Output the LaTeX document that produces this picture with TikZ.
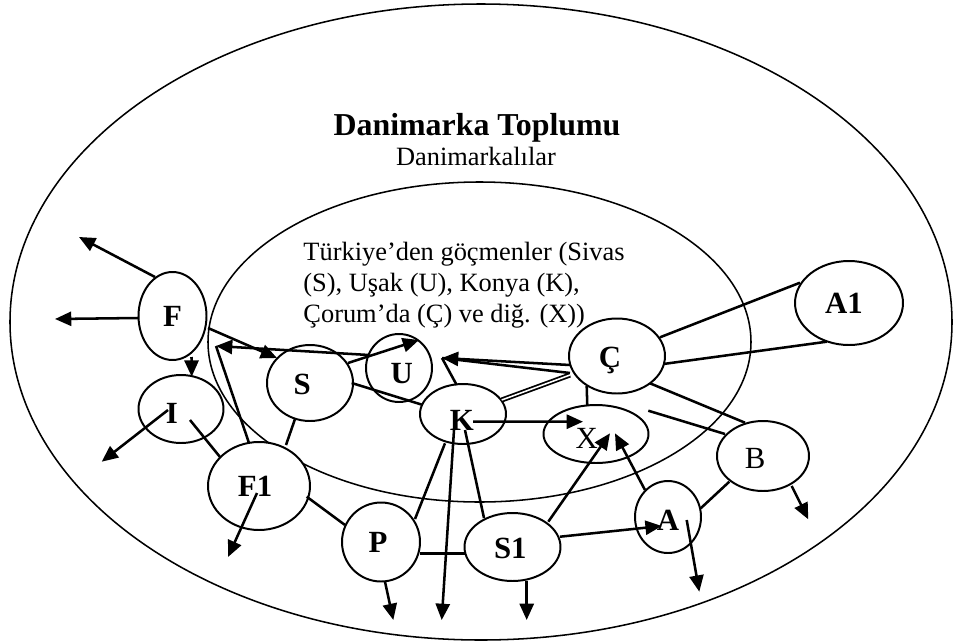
\documentclass[tikz,border=0pt]{standalone}
\usepackage{fontspec}
\setmainfont{Liberation Serif}
\usetikzlibrary{shapes.geometric,arrows.meta}
\def\pxu{0.4545pt}
\tikzset{
 nd/.style={ellipse, draw, line width=0.9pt, fill=white, inner sep=0pt},
 lb/.style={font=\fontsize{14}{16}\selectfont\bfseries, inner sep=0pt},
 lr/.style={font=\fontsize{14}{16}\selectfont, inner sep=0pt},
 con/.style={line width=1.15pt},
 arr/.style={con, -{Triangle[length=7.4pt,width=6.4pt]}},
 big/.style={line width=0.7pt},
}
\begin{document}
\begin{tikzpicture}[x=0.4545pt,y=-0.4545pt]
\useasboundingbox (0,0) rectangle (956,642);
\draw[big] (481,322) ellipse [x radius=471, y radius=318];
\draw[big] (479.5,342) ellipse [x radius=271.5, y radius=160];

\node[font=\fontsize{14.5}{17}\selectfont\bfseries, anchor=base, inner sep=0pt] (title) at (477,135) {Danimarka Toplumu};
\node[font=\fontsize{12}{14}\selectfont, anchor=base, inner sep=0pt] (sub) at (476,165) {Danimarkalılar};
\node[font=\fontsize{12}{14.1}\selectfont, align=left, anchor=north west, inner sep=0pt] (tr) at (303,242)
 {Türkiye’den göçmenler (Sivas\\(S), Uşak (U), Konya (K),\\Çorum’da (Ç) ve diğ. (X))};

% nodes
\node[nd, minimum width=68*\pxu, minimum height=88*\pxu, label={[lb]center:F}] (F) at (172.5,316) {};
\node[nd, minimum width=85*\pxu, minimum height=68*\pxu, label={[lb, xshift=-4.2pt, yshift=-2pt]center:I}] (I) at (181,409) {};
\node[nd, minimum width=102*\pxu, minimum height=88*\pxu, label={[lb, xshift=-1.8pt]center:F1}] (F1) at (259,486) {};
\node[nd, minimum width=86*\pxu, minimum height=76*\pxu, label={[lb, xshift=-3.6pt, yshift=-0.5pt]center:S}] (S) at (310,383) {};
\node[nd, minimum width=66*\pxu, minimum height=68*\pxu, label={[lb, xshift=1.2pt, yshift=-2.3pt]center:U}] (U) at (399,368) {};
\node[nd, minimum width=86*\pxu, minimum height=60*\pxu, label={[lb, xshift=-0.5pt, yshift=-2.7pt]center:K}] (K) at (463,414) {};
\node[nd, minimum width=96*\pxu, minimum height=75*\pxu, label={[lb, xshift=-3.2pt, yshift=-2pt]center:Ç}] (C) at (617,356) {};
\node[nd, minimum width=105*\pxu, minimum height=58*\pxu, label={[lr, xshift=-4.2pt, yshift=-2pt]center:X}] (X) at (596,434) {};
\node[nd, minimum width=78*\pxu, minimum height=79*\pxu, label={[lb, xshift=-1.4pt]center:P}] (P) at (381,542) {};
\node[nd, minimum width=96*\pxu, minimum height=68*\pxu, label={[lb, xshift=-1pt, yshift=-0.5pt]center:S1}] (S1) at (512.5,547) {};
\node[nd, minimum width=66*\pxu, minimum height=72*\pxu, label={[lb, yshift=-1.4pt]center:A}] (A) at (668,517) {};
\node[nd, minimum width=92*\pxu, minimum height=70*\pxu, label={[lr, xshift=-3.6pt, yshift=-1pt]center:B}] (B) at (763,456) {};
\node[nd, minimum width=108*\pxu, minimum height=84*\pxu, label={[lb, xshift=-2.3pt]center:A1}] (A1) at (849,303) {};

% free ends
\coordinate (fa1) at (79,237);
\coordinate (fa2) at (55,319);
\coordinate (ia) at (101.7,461.7);
\coordinate (fu) at (216,346);
\coordinate (cu) at (442,358);
\coordinate (f1a) at (228,557);
\coordinate (ka) at (441.7,620);
\coordinate (pa) at (393.3,620);
\coordinate (s1a) at (526.7,620);
\coordinate (aa) at (699.3,591.7);
\coordinate (ba) at (808.3,519.3);
\coordinate (cb) at (648.3,410.7);

% connectors
\draw[arr] ([shift={(-17.5,-39)}]F.center) -- (fa1);
\draw[arr] ([shift={(-34.5,2)}]F.center) -- (fa2);
\draw[arr] ([shift={(19,41)}]F.center) -- ([shift={(10.7,-32.3)}]I.center);
\draw[arr] ([shift={(-13,1)}]I.center) -- (ia);
\draw[con] ([shift={(9,11)}]I.center) -- ([shift={(-39,-29)}]F1.center);
\draw[con] ([shift={(-10,-43)}]F1.center) -- (fu);
\draw[arr] ([shift={(-30,-13)}]U.center) -- (fu);
\draw[arr] ([shift={(35.5,12)}]F.center) -- ([shift={(-33,-25)}]S.center);
\draw[arr] ([shift={(-47,9)}]C.center) -- (cu);
\draw[con] ([shift={(-47,17)}]C.center) -- (cu);
\draw[con] ([shift={(-6.3,-29)}]K.center) -- (cu);
\draw[con, double, line width=0.8pt, double distance=0.7pt] ([shift={(38.7,-14)}]K.center) -- ([shift={(-47,19)}]C.center);
\draw[arr] ([shift={(10,7.7)}]K.center) -- ([shift={(-13,-12.3)}]X.center);
\draw[con] ([shift={(-30.3,30)}]C.center) -- ([shift={(-8.7,-28)}]X.center);
\draw[arr] ([shift={(38,-20)}]S.center) -- ([shift={(20,-28)}]U.center);
\draw[con] ([shift={(41.7,0)}]S.center) -- ([shift={(-40,-9)}]K.center);
\draw[con] ([shift={(-15,36)}]S.center) -- ([shift={(27,-41)}]F1.center);
\draw[arr] ([shift={(-2,7)}]F1.center) -- (f1a);
\draw[con] ([shift={(47.7,10.7)}]F1.center) -- ([shift={(-36,-17)}]P.center);
\draw[con] ([shift={(34,-23)}]P.center) -- ([shift={(-18,29.3)}]K.center);
\draw[arr] ([shift={(-9,16)}]K.center) -- (ka);
\draw[con] ([shift={(2,16)}]K.center) -- ([shift={(-28.5,-29)}]S1.center);
\draw[con] ([shift={(39,11.3)}]P.center) -- ([shift={(-47.5,6.3)}]S1.center);
\draw[arr] ([shift={(4,39.7)}]P.center) -- (pa);
\draw[arr] ([shift={(14.2,34)}]S1.center) -- (s1a);
\draw[arr] ([shift={(35.8,-25.3)}]S1.center) -- ([shift={(14,-0.7)}]X.center);
\draw[arr] ([shift={(-23,-27)}]A.center) -- ([shift={(19,-0.7)}]X.center);
\draw[arr] ([shift={(47.5,-10.3)}]S1.center) -- ([shift={(-6.3,9)}]A.center);
\draw[con] ([shift={(32.7,-8.7)}]A.center) -- ([shift={(-33.7,25.7)}]B.center);
\draw[arr] ([shift={(18.7,3)}]A.center) -- (aa);
\draw[arr] ([shift={(28.7,30)}]B.center) -- (ba);
\draw[con] ([shift={(33,27.3)}]C.center) -- ([shift={(-18,-33.3)}]B.center);
\draw[con] (cb) -- ([shift={(-38,-22)}]B.center);
\draw[con] ([shift={(43,-18.7)}]C.center) -- ([shift={(-49,-20.3)}]A1.center);
\draw[con] ([shift={(46.3,8)}]C.center) -- ([shift={(-22.3,38.7)}]A1.center);
\end{tikzpicture}
\end{document}
